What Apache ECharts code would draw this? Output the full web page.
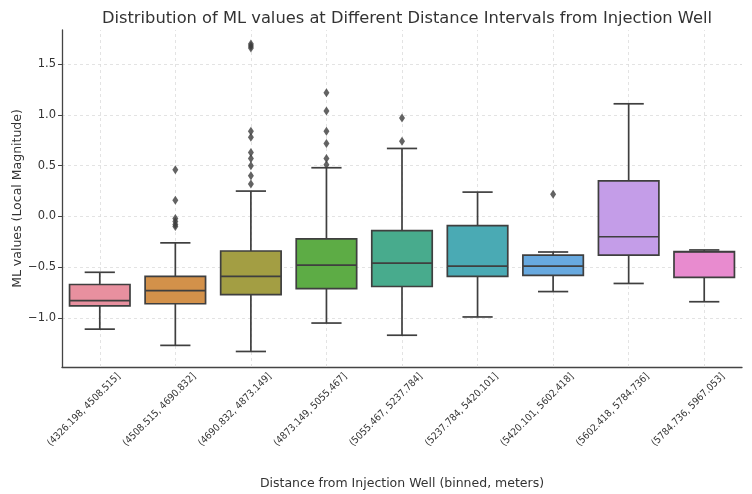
<!DOCTYPE html>
<html>
<head>
<meta charset="utf-8">
<script src="https://cdn.jsdelivr.net/npm/echarts@6/dist/echarts.min.js"></script>
<style>html,body{margin:0;padding:0;background:#fff}#c{width:752px;height:494px}</style>
</head>
<body>
<div id="c"></div>
<script>
var categories = ['(4326.198, 4508.515]', '(4508.515, 4690.832]', '(4690.832, 4873.149]', '(4873.149, 5055.467]', '(5055.467, 5237.784]', '(5237.784, 5420.101]', '(5420.101, 5602.418]', '(5602.418, 5784.736]', '(5784.736, 5967.053]'];
var whiskerLow  = [-1.11, -1.27, -1.33, -1.05, -1.17, -0.99, -0.74, -0.66, -0.84];
var q1          = [-0.88, -0.86, -0.77, -0.71, -0.69, -0.59, -0.58, -0.38, -0.60];
var median      = [-0.83, -0.73, -0.59, -0.48, -0.46, -0.49, -0.49, -0.20, -0.35];
var q3          = [-0.67, -0.59, -0.34, -0.22, -0.14, -0.09, -0.38, 0.35, -0.345];
var whiskerHigh = [-0.55, -0.26, 0.25, 0.48, 0.67, 0.24, -0.35, 1.11, -0.33];
var outlierCat = [1,1,1,1,1,1, 2,2,2,2,2,2,2,2,2,2, 3,3,3,3,3,3, 4,4, 6];
var outlierVal = [0.46,0.16,-0.02,-0.05,-0.08,-0.10, 0.32,0.40,0.50,0.57,0.63,0.78,0.84,1.66,1.68,1.70, 0.51,0.57,0.72,0.84,1.04,1.22, 0.74,0.97, 0.22];
var palette = ['#e8909f','#d3914a','#a39e43','#5dac45','#48ab8d','#4aaab4','#68a9df','#c49de8','#e88bcf'];

var boxData = categories.map(function(c,i){ return [i, whiskerLow[i], q1[i], median[i], q3[i], whiskerHigh[i]]; });
var outData = outlierCat.map(function(ci,k){ return [categories[ci], outlierVal[k]]; });
var labelData = categories.map(function(c,i){ return [i, 0]; });

var font = 'DejaVu Sans';
var chart = echarts.init(document.getElementById('c'));
var edge = '#3f3f3f';
chart.setOption({
  animation: false,
  title: { text: 'Distribution of ML values at Different Distance Intervals from Injection Well', left: 402, textAlign: 'center', top: 6,
    textStyle: { fontFamily: font, fontSize: 16.3, fontWeight: 'normal', color: '#333' } },
  grid: { left: 62, right: 10, top: 30, bottom: 127, outerBoundsMode: 'none', containLabel: false },
  xAxis: {
    type: 'category', data: categories, boundaryGap: true,
    name: 'Distance from Injection Well (binned, meters)', nameLocation: 'middle', nameGap: 110, nameMoveOverlap: false,
    nameTextStyle: { fontFamily: font, fontSize: 12.5, color: '#333' },
    axisLine: { onZero: false, lineStyle: { color: '#444', width: 1.3 } },
    axisTick: { alignWithLabel: true, length: 4, lineStyle: { color: '#444' } },
    axisLabel: { show: false, interval: 0 },
    splitLine: { show: false }
  },
  yAxis: {
    type: 'value', min: -1.483, max: 1.837,
    name: 'ML values (Local Magnitude)', nameLocation: 'middle', nameGap: 38, nameMoveOverlap: false,
    nameTextStyle: { fontFamily: font, fontSize: 12.5, color: '#333' },
    axisLine: { show: true, lineStyle: { color: '#444', width: 1.3 } },
    axisTick: { show: true, length: 4, lineStyle: { color: '#444' } },
    axisLabel: { showMinLabel: false, showMaxLabel: false, fontFamily: font, fontSize: 11.5, color: '#333', margin: 6,
      formatter: function(v){ return v.toFixed(1).replace('-', '\u2212'); } },
    splitLine: { show: true, lineStyle: { color: ['transparent','#dcdcdc','#dcdcdc','#dcdcdc','#dcdcdc','#dcdcdc','#dcdcdc','transparent'], type: [3,3], width: 0.8 } }
  },
  series: [
    {
      type: 'line', data: [], z: 1, silent: true,
      markLine: { silent: true, z: 1, symbol: 'none', label: { show: false },
        lineStyle: { color: '#dcdcdc', type: [3,3], width: 0.8 },
        data: categories.map(function(c){ return { xAxis: c }; }) }
    },
    {
      type: 'custom', z: 3,
      data: boxData,
      encode: { x: 0, y: [1,2,3,4,5] },
      renderItem: function(params, api){
        var i = api.value(0);
        var w = api.size([1,0])[0] * 0.8;
        var pLo = api.coord([i, api.value(1)]);
        var pQ1 = api.coord([i, api.value(2)]);
        var pMd = api.coord([i, api.value(3)]);
        var pQ3 = api.coord([i, api.value(4)]);
        var pHi = api.coord([i, api.value(5)]);
        var cx = pMd[0];
        var ls = { stroke: edge, lineWidth: 1.7 };
        return { type: 'group', children: [
          { type: 'line', shape: { x1: cx, y1: pQ3[1], x2: cx, y2: pHi[1] }, style: ls },
          { type: 'line', shape: { x1: cx, y1: pQ1[1], x2: cx, y2: pLo[1] }, style: ls },
          { type: 'line', shape: { x1: cx - w/4, y1: pHi[1], x2: cx + w/4, y2: pHi[1] }, style: ls },
          { type: 'line', shape: { x1: cx - w/4, y1: pLo[1], x2: cx + w/4, y2: pLo[1] }, style: ls },
          { type: 'rect', shape: { x: cx - w/2, y: pQ3[1], width: w, height: pQ1[1] - pQ3[1] },
            style: { fill: palette[params.dataIndex], stroke: edge, lineWidth: 1.7 } },
          { type: 'line', shape: { x1: cx - w/2, y1: pMd[1], x2: cx + w/2, y2: pMd[1] }, style: ls }
        ]};
      }
    },
    {
      type: 'scatter', z: 4, data: outData, symbol: 'diamond', symbolSize: [6, 9],
      itemStyle: { color: '#3d3d3d' }
    },
    {
      type: 'custom', z: 5, silent: true, clip: false,
      data: labelData,
      encode: { x: 0, y: 1 },
      renderItem: function(params, api){
        var i = api.value(0);
        var cx = api.coord([i, 0])[0];
        var cs = params.coordSys;
        var bottom = cs.y + cs.height;
        return { type: 'text', x: cx + 19, y: bottom + 8, rotation: Math.PI / 4,
          style: { text: categories[i], align: 'right', verticalAlign: 'middle',
            font: '10px "DejaVu Sans Condensed", "DejaVu Sans"', fill: '#333' } };
      }
    }
  ]
});
</script>
</body>
</html>
